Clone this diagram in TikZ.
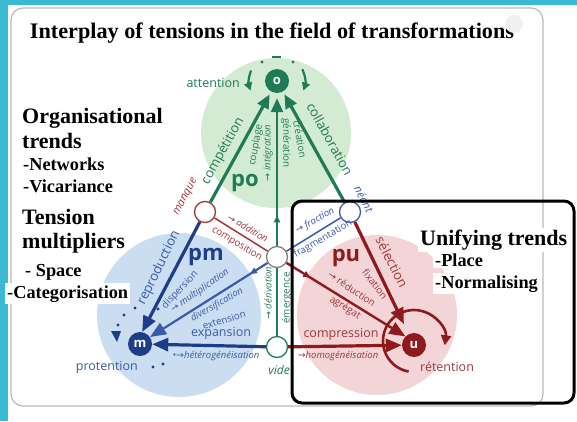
\documentclass[tikz,border=0pt]{standalone}
\usepackage{fontspec}
\setmainfont{Liberation Serif}
\setsansfont{Open Sans}
\newfontfamily\arrfont{DejaVu Sans}
\newcommand{\rarr}{{\arrfont →}}
\usetikzlibrary{arrows.meta,calc,decorations.markings}
\definecolor{cyanb}{HTML}{3BB9D2}
\definecolor{dgreen}{HTML}{1E7B55}
\definecolor{lgreen}{HTML}{D4EBD3}
\definecolor{dblue}{HTML}{1F3C88}
\definecolor{mblue}{HTML}{3A5BA8}
\definecolor{lblue}{HTML}{CADDF1}
\definecolor{dred}{HTML}{8E1A1D}
\definecolor{mred}{HTML}{A3363A}
\definecolor{lred}{HTML}{F3D4D7}
\pgfdeclarelayer{bg}
\pgfsetlayers{bg,main}
\tikzset{
  lbl/.style={font=\sffamily\fontsize{12.5}{13}\selectfont, inner sep=0},
  elbl/.style={font=\sffamily\fontsize{13.2}{14}\selectfont, inner sep=0},
  slbl/.style={font=\sffamily\fontsize{9.8}{10}\selectfont, inner sep=0},
  ilbl/.style={font=\sffamily\itshape\fontsize{9.5}{10}\selectfont, inner sep=0},
  biglbl/.style={font=\sffamily\bfseries\fontsize{22}{24}\selectfont, inner sep=0},
  hd/.style={font=\bfseries\fontsize{22}{24}\selectfont, inner sep=0, anchor=base west},
  sub/.style={font=\bfseries\fontsize{18.3}{20}\selectfont, inner sep=0, anchor=base west},
  pole/.style={circle, inner sep=0, minimum size=24pt, text=white, font=\sffamily\bfseries\fontsize{13}{14}\selectfont},
  hub/.style={circle, fill=white, inner sep=0, minimum size=21pt, line width=1.3pt},
  bigtip/.style={-{Triangle[length=16pt,width=13pt]}},
  gtip/.style={-{Triangle[length=14pt,width=12pt]}},
  midtip/.style={postaction={decorate, decoration={markings, mark=at position #1 with {\arrow{Triangle[length=7pt,width=6pt]}}}}},
  dot/.style={circle, inner sep=0, minimum size=3.2pt},
}
\begin{document}
\begin{tikzpicture}[x=1pt,y=-1pt]
\useasboundingbox (0,0) rectangle (577,421);
\begin{pgfonlayer}{bg}
\fill[white] (0,0) rectangle (577,421);
\fill[cyanb] (0,0) rectangle (577,5);
\fill[cyanb] (0,0) rectangle (8,421);
\draw[gray!55, line width=1.2pt, rounded corners=12pt] (11,8) rectangle (543,406);
\fill[lgreen] (276,133) circle (75);
\fill[lblue] (179,315) circle (82);
\fill[lred] (377,315) circle (80);
\end{pgfonlayer}

% title
\node[font=\bfseries\fontsize{22.2}{26}\selectfont, anchor=base, inner sep=0] (title) at (272,38) {Interplay of tensions in the field of transformations};
\node[circle, fill=gray!12, minimum size=18pt, inner sep=0] (badge) at (514,24) {};

% nodes
\node[pole, fill=dgreen] (o) at (277,81) {o};
\node[pole, fill=dblue] (m) at (140,344) {m};
\node[pole, fill=dred] (u) at (414,345) {u};
\node[hub, draw=mred] (manque) at (205,212) {};
\node[hub, draw=mblue] (neant) at (350,212) {};
\node[hub, draw=gray] (ctr) at (277,257) {};
\node[hub, draw=dgreen] (vide) at (277,347) {};

% connectors
\begin{pgfonlayer}{bg}
\draw[dgreen, line width=3.2pt, gtip, shorten >=3pt] (manque) -- (o);
\draw[dgreen, line width=3.2pt, gtip, shorten >=3pt] (neant) -- (o);
\draw[dgreen, line width=2.6pt, gtip, midtip=0.2, shorten >=5pt] (ctr) -- (o);
\draw[dgreen, line width=1.5pt] (vide) -- (ctr);
\draw[dblue, line width=3.2pt, bigtip] (manque) -- (m.80);
\draw[mblue, line width=2.2pt, bigtip, midtip=0.15] (ctr) -- (m.35);
\draw[dblue, line width=3.2pt, bigtip] (vide) -- (m);
\draw[mred, line width=1.5pt] (manque) -- (ctr);
\draw[mblue, line width=1.5pt] (neant) -- (ctr);
\end{pgfonlayer}

% loops around poles
\draw[dred, line width=2.6pt, -{Triangle[length=10pt,width=10pt]}] ($(414,341)+(100:31)$) arc[start angle=100, end angle=368, radius=31];
\draw[dgreen, line width=2.2pt, -{Triangle[length=8pt,width=8pt]}] ($(o)+(202:28)$) arc[start angle=202, end angle=160, radius=28];
\draw[dgreen, line width=2.2pt, -{Triangle[length=8pt,width=8pt]}] ($(o)+(-25:28)$) arc[start angle=-25, end angle=20, radius=28];
\node[dot, fill=dgreen] (od1) at (262,62) {};
\node[dot, fill=dgreen] (od2) at (293,62) {};
\draw[dgreen, line width=2.4pt] (272,57) -- (281,57);

% arrows into u, drawn over the loop
\draw[dred, line width=3.2pt, bigtip, shorten >=11pt] (neant) -- (u);
\draw[dred, line width=2.4pt, bigtip, midtip=0.2] (ctr) -- (u.135);
\draw[dred, line width=3.2pt, bigtip] (vide) -- (u);

% dots around m
\foreach \p/\n in {(135,308)/a,(158,309)/b,(124,315)/c,(118,325)/d,(153,367)/e,(163,364)/f}
  \node[dot, fill=dblue] (md\n) at \p {};
\fill[dblue] (111,331) -- (121,331) -- (117,342) -- cycle;

% green labels
\begin{scope}[text=dgreen]
\node[lbl, anchor=east] (lattention) at (240,83) {attention};
\node[elbl, rotate=61] (lcompetition) at (223,151) {compétition};
\node[slbl, rotate=80] (lcouplage) at (256,145) {couplage};
\node[ilbl, rotate=90] (lintegration) at (268,153) {\rarr\ intégration};
\node[slbl, rotate=-90] (lgeneration) at (286,143) {génération};
\node[slbl, rotate=-80] (lcreation) at (300,139) {création};
\node[elbl, rotate=-61] (lcollaboration) at (330,139) {collaboration};
\node[biglbl] (lpo) at (245,183) {po};
\node[ilbl, rotate=90] (lderivation) at (268,293) {\rarr\ dérivation};
\node[slbl, rotate=90] (lemergence) at (287,298) {émergence};
\node[lbl, font=\sffamily\itshape\fontsize{12}{13}\selectfont] (lvide) at (279,370) {vide};
\end{scope}

% blue labels
\begin{scope}[text=mblue]
\node[elbl, rotate=64] (lreproduction) at (159,268) {reproduction};
\node[biglbl, text=dblue] (lpm) at (206,257) {pm};
\node[slbl, rotate=47] (ldispersion) at (180,290) {dispersion};
\node[ilbl, rotate=35] (lmultiplication) at (200,291) {\rarr\ multiplication};
\node[ilbl, rotate=30] (ldiversification) at (217,305) {diversification};
\node[slbl, rotate=17] (lextension) at (224,320) {extension};
\node[lbl] (lexpansion) at (221,333) {expansion};
\node[ilbl] (lhetero) at (216,356) {•\rarr hétérogénéisation};
\node[lbl, anchor=east] (lprotention) at (138,367) {protention};
\node[ilbl, font=\sffamily\itshape\fontsize{11}{12}\selectfont, rotate=-62] (lneant) at (364,199) {néant};
\node[ilbl, rotate=30] (lfraction) at (315,221) {\rarr\ fraction};
\node[slbl, rotate=30] (lfragmentation) at (323,239) {fragmentation};
\end{scope}

% red labels
\begin{scope}[text=mred]
\node[ilbl, font=\sffamily\itshape\fontsize{11}{12}\selectfont, rotate=62] (lmanque) at (186,197) {manque};
\node[ilbl, rotate=-31] (laddition) at (248,228) {\rarr\ addition};
\node[slbl, rotate=-31] (lcomposition) at (237,244) {composition};
\node[biglbl, text=dred] (lpu) at (346,258) {pu};
\node[elbl, rotate=-63] (lselection) at (392,262) {sélection};
\node[slbl, rotate=-52] (lfixation) at (375,284) {fixation};
\node[slbl, rotate=-34] (lreduction) at (352,289) {\rarr\ réduction};
\node[slbl, rotate=-32] (lagregat) at (345,308) {agrégat};
\node[lbl] (lcompression) at (341,334) {compression};
\node[ilbl] (lhomo) at (338,356) {\rarr homogénéisation};
\node[lbl, anchor=west] (lretention) at (420,367) {rétention};
\end{scope}

% left text
\node[hd] (torg) at (22,123) {Organisational};
\node[hd] (ttrends) at (22,148) {trends};
\node[sub] (tnet) at (23,170) {-Networks};
\node[sub] (tvic) at (23,192) {-Vicariance};
\node[hd] (ttension) at (22,224) {Tension};
\node[hd] (tmult) at (22,248) {multipliers};
\node[sub] (tspace) at (25,276) {- Space};
\node[sub, fill=white, inner sep=2pt] (tcat) at (5,298) {-Categorisation};

% right text
\node[hd, fill=white, inner sep=2pt] (tunif) at (418,245) {Unifying trends};
\node[sub, fill=white, inner sep=2pt] (tplace) at (433,266) {-Place};
\node[sub, fill=white, inner sep=2pt] (tnorm) at (433,288) {-Normalising};

% black frame
\draw[black, line width=3pt, rounded corners=10pt] (292,201) rectangle (574,403);
\end{tikzpicture}
\end{document}
